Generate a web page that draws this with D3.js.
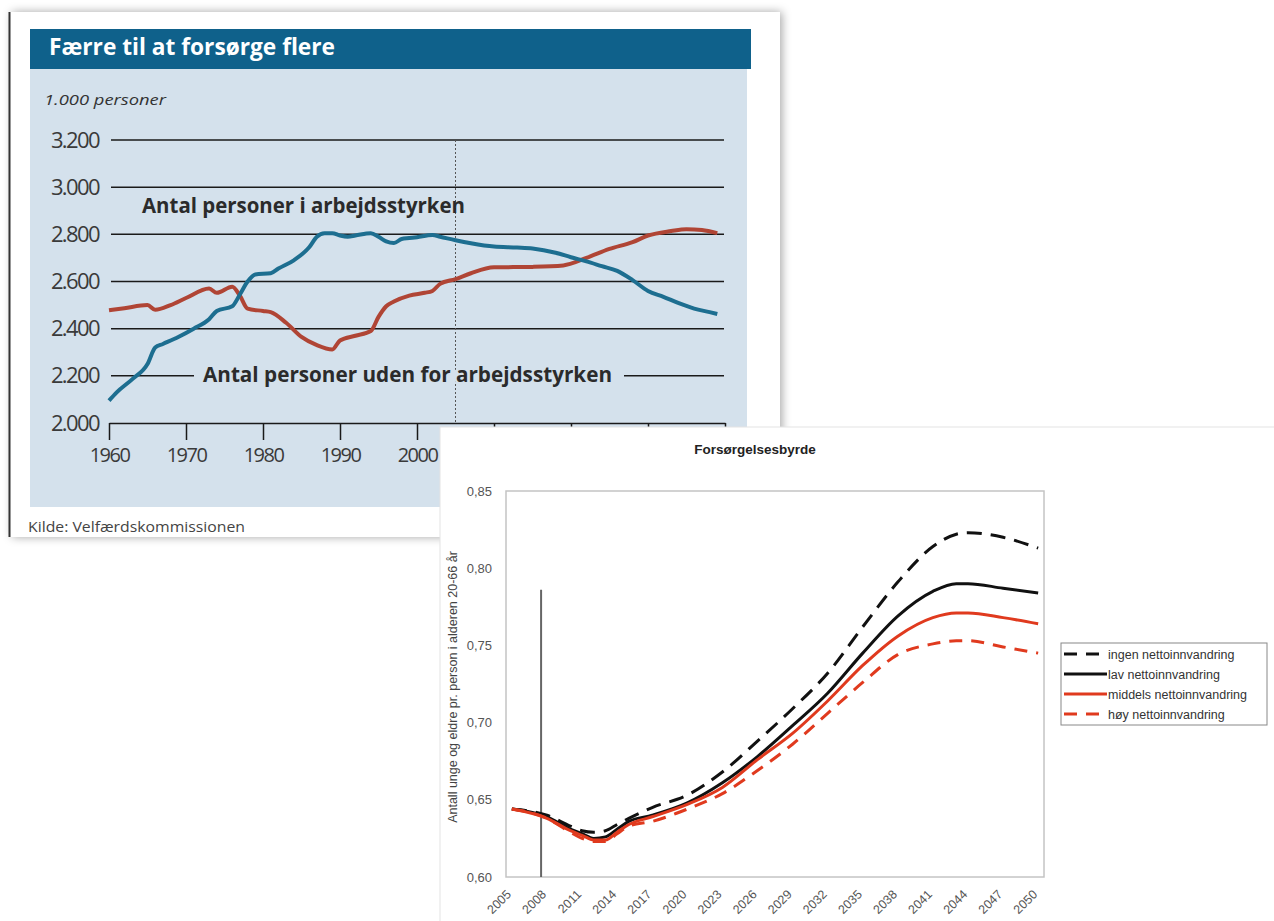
<!DOCTYPE html>
<html><head><meta charset="utf-8">
<script src="https://cdn.jsdelivr.net/npm/d3@7"></script>
<style>html,body{margin:0;padding:0;background:#fff;}svg{display:block;}</style>
</head><body>
<svg id="c" width="1274" height="921"></svg>
<script>
// ---------- Chart 1: Færre til at forsørge flere ----------
const topTitle = "Færre til at forsørge flere";
const topUnit = "1.000 personer";
const topSource = "Kilde: Velfærdskommissionen";
const labelIn = "Antal personer i arbejdsstyrken";
const labelOut = "Antal personer uden for arbejdsstyrken";
const topYTicks = [2000, 2200, 2400, 2600, 2800, 3000, 3200];
const topXTicks = [1960, 1970, 1980, 1990, 2000, 2010, 2020, 2030, 2040];
const topXLabels = [1960, 1970, 1980, 1990, 2000];
const projectionYear = 2005;

const inYears = [1960,1961,1963,1965,1966,1967,1969,1971,1973,1974,1976,1977,1978,1979,1981,1982,1984,1986,1987,1988,1989,1990,1991,1992,1994,1995,1996,1997,1998,1999,2000,2002,2003,2005,2007,2010,2013,2015,2018,2020,2022,2024,2026,2028,2030,2032,2034,2036,2038,2039];
const inValues = [2095,2130,2185,2250,2320,2335,2365,2400,2440,2475,2495,2545,2600,2630,2635,2655,2690,2745,2790,2805,2805,2795,2790,2795,2805,2790,2770,2763,2780,2784,2788,2797,2790,2775,2762,2748,2744,2740,2722,2703,2685,2665,2645,2606,2560,2535,2508,2485,2470,2462];

const outYears = [1960,1962,1965,1966,1968,1970,1973,1974,1976,1977,1978,1980,1981,1983,1985,1987,1989,1990,1992,1994,1995,1996,1997,1999,2001,2002,2003,2005,2007,2010,2015,2019,2022,2025,2028,2030,2033,2035,2037,2039];
const outValues = [2478,2487,2500,2480,2500,2530,2570,2552,2578,2540,2485,2475,2470,2425,2365,2330,2312,2350,2370,2390,2450,2495,2515,2540,2552,2560,2590,2610,2635,2660,2662,2668,2700,2738,2767,2795,2814,2822,2818,2805];

// ---------- Chart 2: Forsørgelsesbyrde ----------
const botTitle = "Forsørgelsesbyrde";
const botYTitle = "Antall unge og eldre pr. person i alderen 20-66 år";
const botYTicks = [0.60, 0.65, 0.70, 0.75, 0.80, 0.85];
const botXLabels = [2005,2008,2011,2014,2017,2020,2023,2026,2029,2032,2035,2038,2041,2044,2047,2050];
const markerYear = 2007.5;
const seriesNames = ["ingen nettoinnvandring","lav nettoinnvandring","middels nettoinnvandring","høy nettoinnvandring"];
const botYears = [2005,2008,2010,2011,2012,2013,2014,2015,2017,2020,2023,2026,2029,2032,2035,2038,2041,2043,2044,2047,2050];
const ingen   = [0.644,0.640,0.633,0.630,0.629,0.630,0.634,0.638,0.645,0.653,0.668,0.688,0.709,0.732,0.762,0.791,0.814,0.822,0.823,0.820,0.813];
const lav     = [0.644,0.639,0.631,0.628,0.625,0.626,0.631,0.636,0.640,0.648,0.661,0.678,0.698,0.719,0.745,0.769,0.785,0.790,0.790,0.787,0.784];
const middels = [0.644,0.638,0.630,0.627,0.624,0.624,0.629,0.634,0.639,0.647,0.658,0.676,0.693,0.714,0.737,0.756,0.768,0.771,0.771,0.768,0.764];
const hoy     = [0.644,0.638,0.629,0.625,0.623,0.623,0.628,0.633,0.636,0.644,0.654,0.669,0.686,0.706,0.726,0.744,0.751,0.753,0.753,0.749,0.745];

const svg = d3.select("#c");
const defs = svg.append("defs");
const f = defs.append("filter").attr("id","sh").attr("x","-5%").attr("y","-5%").attr("width","110%").attr("height","110%");
f.append("feDropShadow").attr("dx",2).attr("dy",0).attr("stdDeviation",5).attr("flood-color","#000").attr("flood-opacity",0.35);

// ===== top card =====
const g1 = svg.append("g");
g1.append("rect").attr("x",10).attr("y",12).attr("width",770).attr("height",525).attr("fill","#fff").attr("filter","url(#sh)");
g1.append("line").attr("x1",9.5).attr("x2",9.5).attr("y1",12).attr("y2",537).attr("stroke","#333").attr("stroke-width",2);
g1.append("rect").attr("x",30).attr("y",29).attr("width",721).attr("height",40).attr("fill","#0f618b");
g1.append("rect").attr("x",30).attr("y",69).attr("width",717).attr("height",438).attr("fill","#d4e1ec");
g1.append("text").attr("x",49).attr("y",55).text(topTitle)
  .attr("font-family","Open Sans").attr("font-weight",700).attr("font-size",24).attr("fill","#fff")
  .attr("textLength",286).attr("lengthAdjust","spacingAndGlyphs");
g1.append("text").attr("x",44).attr("y",105).text(topUnit)
  .attr("font-family","Open Sans").attr("font-style","italic").attr("font-size",15).attr("fill","#333")
  .attr("textLength",122).attr("lengthAdjust","spacingAndGlyphs");
g1.append("text").attr("x",28).attr("y",532).text(topSource)
  .attr("font-family","Open Sans").attr("font-size",14).attr("fill","#444")
  .attr("textLength",217).attr("lengthAdjust","spacingAndGlyphs");

const x1 = d3.scaleLinear().domain([1960,2040]).range([109,725]);
const y1 = d3.scaleLinear().domain([2000,3200]).range([423,140]);
const locTop = d3.formatLocale({decimal:",", thousands:".", grouping:[3], currency:["",""]});
const fmtTop = locTop.format(",d");

const gridTicks = topYTicks.filter(v => v > 2000);
g1.append("g").selectAll("line").data(gridTicks).join("line")
  .attr("x1",x1(1960)+2).attr("x2",x1(2040)-1).attr("y1",d=>y1(d)).attr("y2",d=>y1(d))
  .attr("stroke","#1a1a1a").attr("stroke-width",1.5);
g1.append("g").selectAll("text").data(topYTicks).join("text")
  .attr("x",99).attr("y",d=>y1(d)+7.5).attr("text-anchor","end").text(d=>fmtTop(d))
  .attr("font-family","Open Sans").attr("font-size",22).attr("fill","#3a3a3a").attr("letter-spacing",-1.6);
const xAx = d3.axisBottom(x1).tickValues(topXTicks)
  .tickFormat(d => topXLabels.includes(d) ? String(d) : "")
  .tickSizeInner(17).tickSizeOuter(0).tickPadding(8);
const gx = g1.append("g").attr("transform",`translate(0,${y1(2000)})`).call(xAx);
gx.select(".domain").attr("stroke","#1a1a1a").attr("stroke-width",1.5);
gx.selectAll(".tick line").attr("stroke","#1a1a1a").attr("stroke-width",1.5);
gx.selectAll(".tick text").attr("font-family","Open Sans").attr("font-size",20).attr("fill","#3a3a3a").attr("letter-spacing",-1.5);
gx.selectAll(".tick text").filter(function(){return this.textContent==="";}).remove();
g1.append("line").attr("x1",x1(projectionYear)).attr("x2",x1(projectionYear)).attr("y1",y1(3200)).attr("y2",y1(2000))
  .attr("stroke","#555").attr("stroke-width",1).attr("stroke-dasharray","2,2");
const lineTop = d3.line().x(d=>x1(d[0])).y(d=>y1(d[1])).curve(d3.curveMonotoneX);
g1.append("path").datum(outYears.map((y,i)=>[y,outValues[i]])).attr("d",lineTop)
  .attr("fill","none").attr("stroke","#b04535").attr("stroke-width",4).attr("stroke-linejoin","round");
g1.append("path").datum(inYears.map((y,i)=>[y,inValues[i]])).attr("d",lineTop)
  .attr("fill","none").attr("stroke","#1d6e90").attr("stroke-width",4).attr("stroke-linejoin","round");
g1.append("text").attr("x",142).attr("y",213).text(labelIn)
  .attr("font-family","Open Sans").attr("font-weight",700).attr("font-size",21).attr("fill","#2b2b2b")
  .attr("textLength",323).attr("lengthAdjust","spacingAndGlyphs");
g1.append("rect").attr("x",194).attr("y",y1(2200)-6).attr("width",430).attr("height",12).attr("fill","#d4e1ec");
g1.append("text").attr("x",203).attr("y",382).text(labelOut)
  .attr("font-family","Open Sans").attr("font-weight",700).attr("font-size",21).attr("fill","#2b2b2b")
  .attr("textLength",409).attr("lengthAdjust","spacingAndGlyphs");

// ===== bottom panel =====
const g2 = svg.append("g");
g2.append("rect").attr("x",440).attr("y",427).attr("width",840).attr("height",500).attr("fill","#fff").attr("stroke","#e4e4e4");
const x2 = d3.scaleLinear().domain([2004.5,2050.5]).range([506,1044]);
const y2 = d3.scaleLinear().domain([0.60,0.85]).range([877,491]);
const fmtBot = d3.formatLocale({decimal:",", thousands:".", grouping:[3], currency:["",""]}).format(".2f");

g2.append("rect").attr("x",506).attr("y",491).attr("width",538).attr("height",386).attr("fill","none").attr("stroke","#c4c4c4").attr("stroke-width",1.5);
g2.append("text").attr("x",755).attr("y",454).attr("text-anchor","middle").text(botTitle)
  .attr("font-family","Liberation Sans").attr("font-weight",700).attr("font-size",13.5).attr("fill","#222");
const yAx = d3.axisLeft(y2).tickValues(botYTicks).tickFormat(fmtBot).tickSize(0).tickPadding(14);
const gy = g2.append("g").attr("transform","translate(506,0)").call(yAx);
gy.select(".domain").remove();
gy.selectAll(".tick text").attr("font-family","Liberation Sans").attr("font-size",13).attr("fill","#555");
g2.append("text").attr("transform","translate(457,687) rotate(-90)").attr("text-anchor","middle").text(botYTitle)
  .attr("font-family","Liberation Sans").attr("font-size",12.5).attr("fill","#444");
const xl = g2.append("g").selectAll("g").data(botXLabels).join("g")
  .attr("transform", d => "translate(" + (x2(d) - 3) + ",892) rotate(-45)");
xl.append("text").attr("x",0).attr("y",0).attr("dy","0.35em")
  .style("text-anchor","end").text(d => String(d))
  .attr("font-family","Liberation Sans").attr("font-size",12.5).attr("fill","#555");
g2.append("line").attr("x1",x2(markerYear)).attr("x2",x2(markerYear)).attr("y1",y2(0.786)).attr("y2",y2(0.60))
  .attr("stroke","#666").attr("stroke-width",2);

const styles = [
  {data:ingen, color:"#111", dash:"15,9", w:3},
  {data:lav, color:"#111", dash:null, w:3},
  {data:middels, color:"#e03a1e", dash:null, w:3},
  {data:hoy, color:"#e03a1e", dash:"13,9", w:3}
];
const lineBot = d3.line().x(d=>x2(d[0])).y(d=>y2(d[1])).curve(d3.curveMonotoneX);
[0,1,3,2].forEach(i=>{
  const s = styles[i];
  g2.append("path").datum(botYears.map((y,j)=>[y,s.data[j]])).attr("d",lineBot)
    .attr("fill","none").attr("stroke",s.color).attr("stroke-width",s.w)
    .attr("stroke-dasharray",s.dash).attr("stroke-linejoin","round");
});
const lg = g2.append("g");
lg.append("rect").attr("x",1061).attr("y",643).attr("width",206).attr("height",82).attr("fill","#fff").attr("stroke","#888");
const legY = [654,674,694,714];
seriesNames.forEach((n,i)=>{
  const s = styles[i];
  lg.append("line").attr("x1",1064).attr("x2",1107).attr("y1",legY[i]).attr("y2",legY[i])
    .attr("stroke",s.color).attr("stroke-width",3).attr("stroke-dasharray",s.dash ? "13,9" : null);
  lg.append("text").attr("x",1108).attr("y",legY[i]+4.5).text(n)
    .attr("font-family","Liberation Sans").attr("font-size",12.5).attr("fill","#333");
});
</script>
</body></html>
